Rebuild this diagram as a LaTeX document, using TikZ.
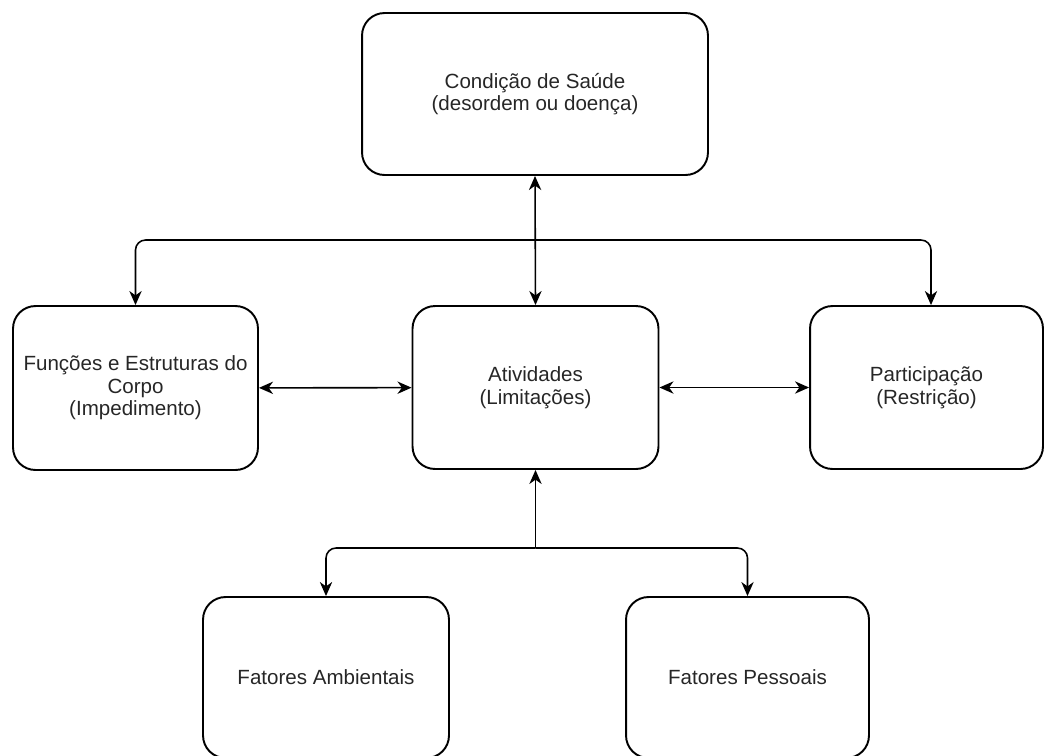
\documentclass[tikz,border=0pt]{standalone}
\usepackage{fontspec}
\setmainfont{Liberation Sans}
\usetikzlibrary{arrows.meta}
\tikzstyle{caixa}=[draw, rounded corners=0.45cm, line width=1.1pt, align=center, text=black!85, font=\fontsize{11.7}{12.8}\selectfont, inner sep=2pt]
\tikzstyle{seta}=[-{Stealth[length=8pt,width=7pt,inset=2.5pt]}, line width=0.9pt, rounded corners=0.2cm]
\tikzstyle{setas}=[{Stealth[length=8pt,width=7pt,inset=2.5pt]}-{Stealth[length=8pt,width=7pt,inset=2.5pt]}, line width=0.9pt]

\begin{document}
\begin{tikzpicture}[x=0.02cm, y=-0.02cm]
	\useasboundingbox (0,0) rectangle (1044,755);
	\node(saude)[caixa, minimum width=6.92cm, minimum height=3.24cm] at (535,94) {Condição de Saúde\\(desordem ou doença)};
	\node(funcoes)[caixa, minimum width=4.9cm, minimum height=3.28cm] at (135.5,388) {Funções e Estruturas do\\Corpo\\(Impedimento)};
	\node(ativ)[caixa, minimum width=4.92cm, minimum height=3.26cm] at (535.5,387.5) {Atividades\\(Limitações)};
	\node(partic)[caixa, minimum width=4.66cm, minimum height=3.26cm] at (926.5,387.5) {Participação\\(Restrição)};
	\node(ambient)[caixa, minimum width=4.92cm, minimum height=3.22cm] at (326,677.5) {Fatores Ambientais};
	\node(pessoais)[caixa, minimum width=4.86cm, minimum height=3.22cm] at (747.5,677.5) {Fatores Pessoais};
	% ramificacoes
	\coordinate (jt) at (535.5,240);
	\coordinate (jb) at (535.5,548);
	\draw[setas] (saude.south) -- (ativ.north);
	\draw[seta] (jt) -| (funcoes.north);
	\draw[seta] (jt) -| ([xshift=0.09cm]partic.north);
	\draw[setas] (funcoes) -- (ativ);
	\draw[setas] (ativ) -- (partic);
	\draw[seta] (jb) -- (ativ.south);
	\draw[seta] (jb) -| (ambient.north);
	\draw[seta] (jb) -| (pessoais.north);
\end{tikzpicture}
\end{document}
